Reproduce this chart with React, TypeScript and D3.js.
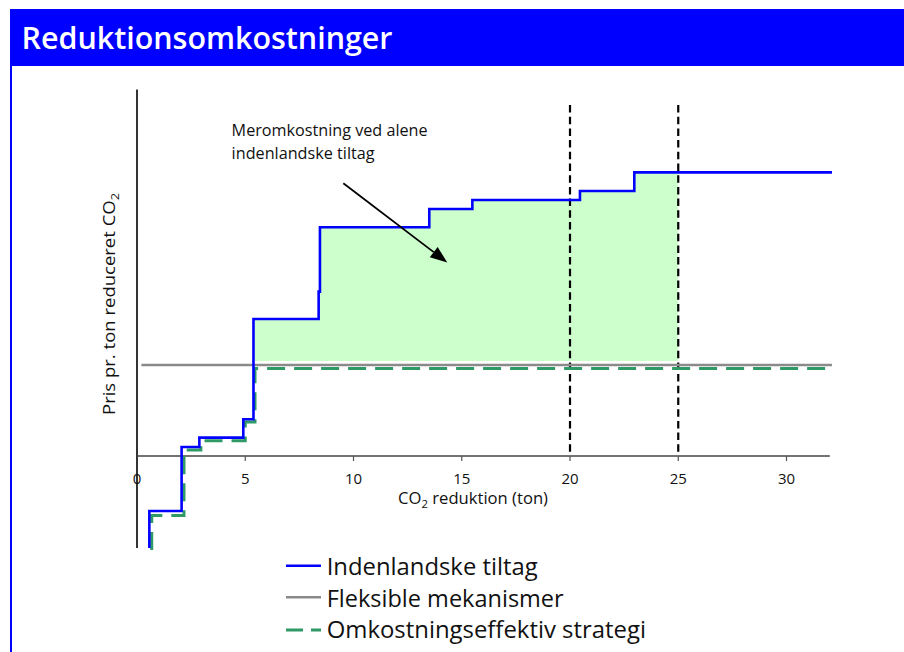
import React from 'react';
import * as d3 from 'd3';

// ---- data ----
const xTicks = [0, 5, 10, 15, 20, 25, 30];
// Indenlandske tiltag (step curve, step-after)
const domesticX = [0.57, 0.57, 2.06, 2.88, 4.91, 5.38, 8.39, 8.45, 13.5, 15.49, 20.46, 22.97, 32.1];
const domesticY = [-23, -13.75, 2.25, 4.6, 9.2, 34.25, 41.1, 57.2, 61.75, 64, 66.25, 70.9, 70.9];
// Omkostningseffektiv strategi
const strategyX = [0.68, 0.68, 2.17, 2.95, 5.0, 5.45, 32.1];
const strategyY = [-23.5, -14.9, 1.5, 3.8, 8.5, 21.9, 21.9];
// Fleksible mekanismer
const flexibleX = [0.2, 32.1];
const flexibleY = [22.75, 22.75];
// Extra cost area
const extraCostRange = [5.38, 25];
const extraCostBase = 23.75;
// Dashed reference lines
const markerX = [20, 25];
const markerTop = 87.75;
const legendLabels = ['Indenlandske tiltag', 'Fleksible mekanismer', 'Omkostningseffektiv strategi'];
const annotationLines = ['Meromkostning ved alene', 'indenlandske tiltag'];
const annotationAt = [4.37, 80.1];
const arrowFrom = [9.53, 68.2];
const arrowTo = [14.33, 48.4];

const FONT = "'Open Sans', 'Noto Sans', sans-serif";
const BLUE = '#0000ff';
const GRAY = '#8a8a8a';
const GREEN = '#2f9a66';
const FILL = '#ccffcc';

export default function App() {
  const W = 904, H = 652;
  const x = d3.scaleLinear().domain([0, 32]).range([137, 829.8]);
  const y = d3.scaleLinear().domain([-23, 91.5]).range([548, 90]);

  const pts = (xs: number[], ys: number[]) => xs.map((v, i) => [v, ys[i]] as [number, number]);
  const stepLine = d3.line<[number, number]>().x(d => x(d[0])).y(d => y(d[1])).curve(d3.curveStepAfter);

  const levelAt = (v: number) => {
    let lvl = domesticY[0];
    domesticX.forEach((dx, i) => { if (dx <= v) lvl = domesticY[i]; });
    return lvl;
  };
  const areaPts: [number, number][] = [[extraCostRange[0], levelAt(extraCostRange[0])]];
  domesticX.forEach((dx, i) => {
    if (dx > extraCostRange[0] && dx < extraCostRange[1]) areaPts.push([dx, domesticY[i]]);
  });
  areaPts.push([extraCostRange[1], levelAt(extraCostRange[1])]);
  const area = d3.area<[number, number]>()
    .x(d => x(d[0])).y0(y(extraCostBase)).y1(d => y(d[1])).curve(d3.curveStepAfter);

  // arrow
  const ax1 = x(arrowFrom[0]), ay1 = y(arrowFrom[1]);
  const ax2 = x(arrowTo[0]), ay2 = y(arrowTo[1]);
  const len = Math.hypot(ax2 - ax1, ay2 - ay1);
  const ux = (ax2 - ax1) / len, uy = (ay2 - ay1) / len;
  const hl = 17, hw = 6.5;
  const bx = ax2 - ux * hl, by = ay2 - uy * hl;
  const head = `M${ax2},${ay2}L${bx - uy * hw},${by + ux * hw}L${bx + uy * hw},${by - ux * hw}Z`;

  const legendY = [565.7, 597.3, 630];
  const legendBase = [575, 606.5, 638];
  const legendW = [211, 237, 319.3];

  return (
    <div style={{ position: 'fixed', left: 0, top: 0, width: W, height: H, overflow: 'hidden', background: '#fff' }}>
    <svg width={W} height={H} style={{ display: 'block' }} fontFamily={FONT}>
      <rect x={0} y={0} width={W} height={H} fill="#fff" />
      {/* header */}
      <rect x={10} y={9} width={W - 10} height={57} fill={BLUE} />
      <rect x={10} y={66} width={2} height={H - 66} fill={BLUE} />
      <text x={21.5} y={49.3} fill="#fff" fontSize={31} fontWeight={600} textLength={371} lengthAdjust="spacingAndGlyphs">Reduktionsomkostninger</text>

      {/* fill */}
      <path d={area(areaPts) || ''} fill={FILL} />

      {/* axes */}
      <line x1={x(0)} x2={x(0)} y1={y(91.5) - 0.5} y2={y(-23)} stroke="#000" strokeWidth={1.6} />
      <line x1={x(0)} x2={x(32)} y1={y(0)} y2={y(0)} stroke="#444" strokeWidth={1.3} />
      {xTicks.map(t => (
        <g key={t}>
          {t > 0 && <line x1={x(t)} x2={x(t)} y1={y(0)} y2={y(0) + 5} stroke="#555" strokeWidth={1.2} />}
          <text x={x(t)} y={484.3} textAnchor="middle" fontSize={15} fill="#111">{t}</text>
        </g>
      ))}
      <text x={473} y={504} textAnchor="middle" fontSize={16} fill="#111" textLength={150} lengthAdjust="spacingAndGlyphs">
        CO<tspan fontSize={11} dy={4}>2</tspan><tspan dy={-4}> reduktion (ton)</tspan>
      </text>
      <text transform="translate(115,304) rotate(-90)" textAnchor="middle" fontSize={16} fill="#111" textLength={222} lengthAdjust="spacingAndGlyphs">
        Pris pr. ton reduceret CO<tspan fontSize={11} dy={4}>2</tspan>
      </text>

      {/* marker lines */}
      {markerX.map(m => (
        <line key={m} x1={x(m)} x2={x(m)} y1={y(markerTop)} y2={y(0)} stroke="#000" strokeWidth={2.2} strokeDasharray="7.5,4.2" />
      ))}

      {/* series */}
      <path d={stepLine(pts(flexibleX, flexibleY)) || ''} fill="none" stroke={GRAY} strokeWidth={2.6} />
      <path d={stepLine(pts(strategyX, strategyY)) || ''} fill="none" stroke={GREEN} strokeWidth={3} strokeDasharray="18,9" />
      <path d={stepLine(pts(domesticX, domesticY)) || ''} fill="none" stroke={BLUE} strokeWidth={2.6} />

      {/* annotation */}
      {annotationLines.map((l, i) => (
        <text key={i} x={x(annotationAt[0])} y={y(annotationAt[1]) + i * 23.3} fontSize={15.5} fill="#111"
          textLength={i === 0 ? 196 : 143} lengthAdjust="spacingAndGlyphs">{l}</text>
      ))}
      <line x1={ax1} y1={ay1} x2={bx} y2={by} stroke="#000" strokeWidth={1.8} />
      <path d={head} fill="#000" />

      {/* legend */}
      <line x1={286} x2={321} y1={legendY[0]} y2={legendY[0]} stroke={BLUE} strokeWidth={2.4} />
      <line x1={286} x2={321} y1={legendY[1]} y2={legendY[1]} stroke={GRAY} strokeWidth={2.6} />
      <line x1={286} x2={321} y1={legendY[2]} y2={legendY[2]} stroke={GREEN} strokeWidth={3} strokeDasharray="17,8" />
      {legendLabels.map((l, i) => (
        <text key={l} x={326.7} y={legendBase[i]} fontSize={24} fill="#111" textLength={legendW[i]} lengthAdjust="spacingAndGlyphs">{l}</text>
      ))}
    </svg>
    </div>
  );
}
